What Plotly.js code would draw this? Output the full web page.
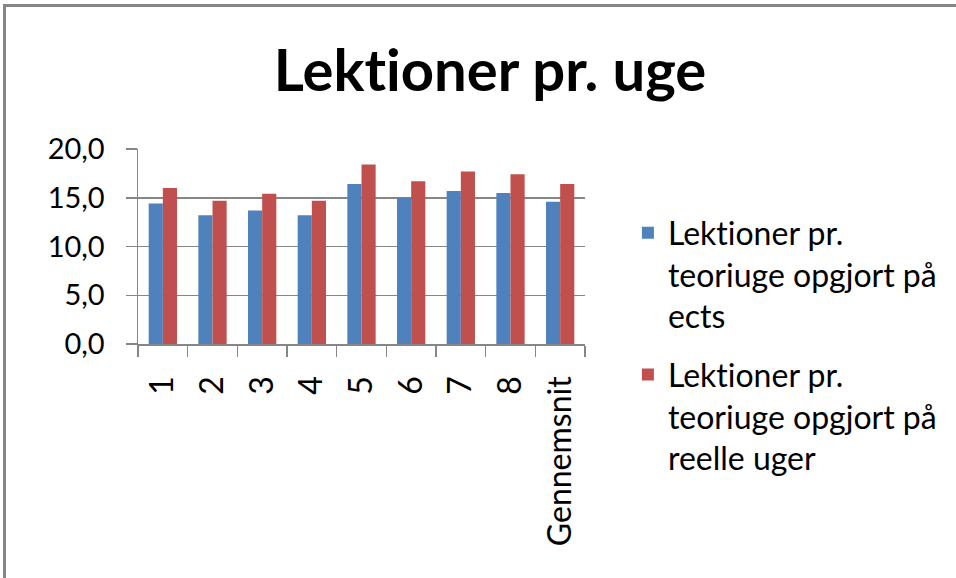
<!DOCTYPE html>
<html>
<head>
<meta charset="utf-8">
<script src="https://cdn.plot.ly/plotly-3.0.1.min.js"></script>
<style>
  html, body { margin: 0; padding: 0; background: #fff; }
  #wrap { position: relative; width: 956px; height: 578px; overflow: hidden; }
  #chart { position: absolute; left: 0; top: 0; width: 956px; height: 578px; }
  #frame { position: absolute; left: 3px; top: 4px; width: 960px; height: 600px;
           border-left: 3px solid #868686; border-top: 3px solid #868686;
           pointer-events: none; box-sizing: border-box; }
  #chart text { font-variant-ligatures: none; font-feature-settings: "liga" 0, "clig" 0; }
</style>
</head>
<body>
<div id="wrap">
  <div id="chart"></div>
  <div id="frame"></div>
</div>
<script>
const categories = ["1", "2", "3", "4", "5", "6", "7", "8", "Gennemsnit"];
const seriesEctsName = "Lektioner pr.<br>teoriuge opgjort på<br>ects";
const seriesEcts = [14.4, 13.2, 13.7, 13.2, 16.4, 15.0, 15.7, 15.5, 14.6];
const seriesReelleName = "Lektioner pr.<br>teoriuge opgjort på<br>reelle uger";
const seriesReelle = [16.0, 14.7, 15.4, 14.7, 18.4, 16.7, 17.7, 17.4, 16.4];
const yTicks = [0, 5, 10, 15, 20];

const FONT = "Lato, Carlito, Calibri, 'Open Sans', sans-serif";

const traces = [
  { type: "bar", name: seriesEctsName, x: categories, y: seriesEcts, legendgroup: "ects",
    marker: { color: "#4F81BD" } },
  { type: "bar", name: seriesReelleName, x: categories, y: seriesReelle, legendgroup: "reelle",
    marker: { color: "#C0504D" } }
];

const layout = {
  width: 956, height: 578,
  paper_bgcolor: "#ffffff", plot_bgcolor: "#ffffff",
  separators: ",.",
  font: { family: FONT, color: "#000000", size: 27 },
  margin: { l: 138, r: 371, t: 149, b: 234, pad: 0 },
  title: { text: "<b>Lektioner pr. uge</b>", font: { family: FONT, size: 58, color: "#000" },
           x: 0.5126, xanchor: "center", xref: "container",
           y: 0.877, yanchor: "middle", yref: "container" },
  barmode: "group", bargap: 0.43, bargroupgap: 0,
  showlegend: true,
  legend: { x: 1.096, xanchor: "left", y: 0.711, yanchor: "top",
            font: { family: FONT, size: 32, color: "#000" },
            valign: "top", maxheight: 500,
            bgcolor: "rgba(0,0,0,0)", tracegroupgap: 14, traceorder: "grouped" },
  xaxis: { type: "category", showgrid: false, showline: true, linecolor: "#868686", linewidth: 1.5,
           ticks: "outside", tickson: "boundaries", ticklen: 11, tickcolor: "#868686", tickwidth: 1.5,
           tickangle: -90, tickfont: { family: FONT, size: 32, color: "#000" },
           ticklabelstandoff: 18, fixedrange: true },
  yaxis: { range: [0, 20], tickvals: yTicks, tickformat: ".1f",
           showgrid: true, gridcolor: "#868686", gridwidth: 1.5,
           showline: true, linecolor: "#868686", linewidth: 1.5,
           ticks: "outside", ticklen: 11, tickcolor: "#868686", tickwidth: 1.5,
           tickfont: { family: FONT, size: 29, color: "#000" },
           ticklabelstandoff: 15, zeroline: false, fixedrange: true }
};

Plotly.newPlot("chart", traces, layout, { displayModeBar: false, staticPlot: true });
</script>
</body>
</html>
